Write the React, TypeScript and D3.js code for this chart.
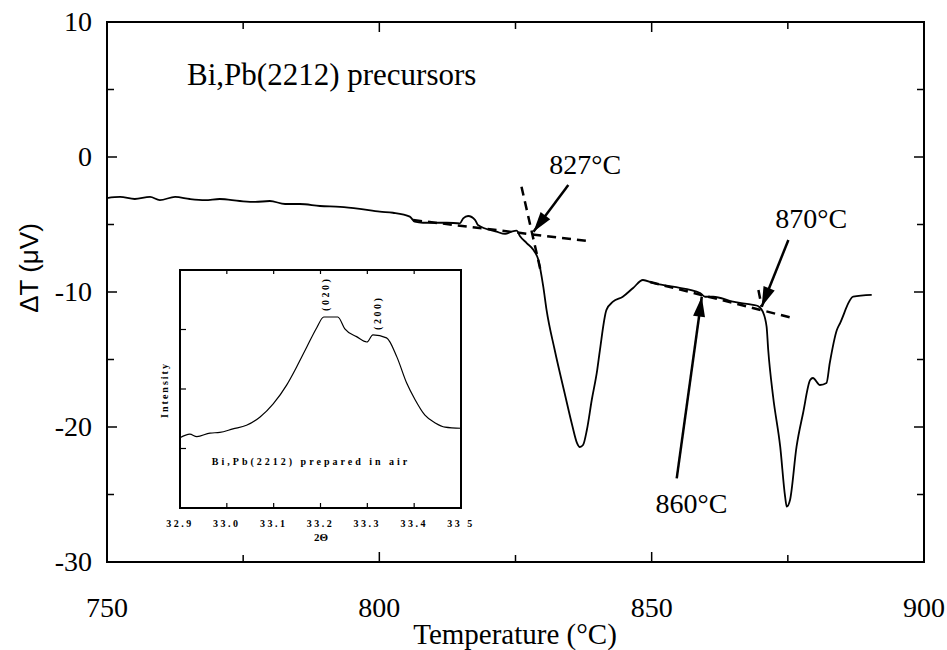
import * as d3 from 'd3';
import * as React from 'react';

const width = 947;
const height = 650;
const frame = { left: 107, right: 924, top: 22, bottom: 562 };

// main DTA trace, temperature (°C) and deltaT (µV)
const temps = [
  750, 752.4, 755.1, 757.9, 759.7, 762.5, 765.2, 768, 770.7, 774.4, 777.2, 779.9, 782.7, 785.4,
  789.1, 792.8, 796.4, 800.1, 802.5, 805.6, 806.5, 808, 812.4, 814.8, 815.4, 816.3, 817.6, 818.1,
  821.5, 823.1, 824.3, 825.2, 825.8, 827.1, 828.3, 829.2, 830.1, 830.7, 832.2, 834.1, 835.4, 836.3,
  836.8, 837.4, 838.1, 839, 840, 840.5, 841.7, 842.9, 844.7, 846.6, 848.4, 850.2, 853.9, 858.9,
  859.8, 861.3, 864.9, 868.6, 869.5, 870.4, 871.1, 871.4, 872.3, 873.6, 874.5, 874.8, 875.4, 876.6,
  877.8, 879.1, 879.6, 880.9, 882.1, 882.7, 884, 884.6, 887, 890.4,
];
const deltaT = [
  -3.04, -2.96, -3.11, -2.96, -3.19, -2.96, -3.11, -3.19, -3.11, -3.26, -3.33, -3.26, -3.48, -3.48,
  -3.63, -3.7, -3.85, -4.05, -4.13, -4.42, -4.79, -4.87, -4.87, -4.91, -4.54, -4.37, -4.67, -5.04,
  -5.53, -5.7, -5.53, -5.46, -5.85, -6.39, -6.89, -7.63, -9.61, -11.33, -14.3, -17.63, -19.85, -21.19,
  -21.48, -21.33, -20.22, -18.0, -15.78, -14.3, -11.33, -10.72, -10.35, -9.7, -9.11, -9.33, -9.61, -10.07,
  -10.35, -10.35, -10.72, -10.96, -11.04, -11.46, -12.57, -14.3, -17.76, -21.46, -25.16, -25.9, -25.41, -21.46,
  -18.96, -16.52, -16.37, -16.89, -16.74, -15.26, -12.81, -12.3, -10.35, -10.22,
];

const xTicks = [750, 800, 850, 900];
const xMinor = [775, 825, 875];
const yTicks = [10, 0, -10, -20, -30];
const yMinor = [5, -5, -15, -25];

// dashed construction lines [T1, V1, T2, V2]
const dashedLines = [
  [806.2, -4.67, 838.1, -6.22],
  [826.1, -2.2, 829.6, -8.4],
  [849.7, -9.26, 875.9, -11.93],
  [869.6, -9.85, 870.2, -11.09],
];

// arrows: from (T, V) to tip (T, V), label and label anchor
const arrowLabels = ['827°C', '870°C', '860°C'];
const arrowFrom = [[834.7, -2.07], [875.1, -6.15], [854.6, -23.8]];
const arrowTo = [[828.3, -5.53], [870.2, -11.09], [859.2, -10.35]];
const labelAt = [[837.8, -1.26], [879.3, -5.26], [857.3, -26.4]];

// inset XRD scan
const twoTheta = [
  32.9, 32.921, 32.936, 32.964, 32.985, 33.013, 33.042, 33.071, 33.099, 33.128, 33.149, 33.171, 33.192,
  33.207, 33.237, 33.252, 33.277, 33.299, 33.312, 33.341, 33.363, 33.384, 33.402, 33.423, 33.445, 33.466, 33.5,
];
const intensity = [
  1.18, 1.24, 1.2, 1.26, 1.27, 1.33, 1.39, 1.53, 1.75, 2.07, 2.37, 2.71, 3.03,
  3.21, 3.21, 3.01, 2.88, 2.79, 2.91, 2.86, 2.54, 2.1, 1.82, 1.56, 1.43, 1.36, 1.34,
];
const insetTicks = [32.9, 33.0, 33.1, 33.2, 33.3, 33.4, 33.5];
const insetTickLabels = ['32.9', '33.0', '33.1', '33.2', '33.3', '33.4', '33 5'];
const insetYTicks = [1, 2, 3];
const peakLabels = ['(020)', '(200)'];
const peakAt = [[33.21, 3.6], [33.32, 3.28]];

const serif = '"Liberation Serif", "Times New Roman", serif';
const sans = '"Liberation Sans", Arial, sans-serif';

export default function App() {
  const x = d3.scaleLinear().domain([750, 900]).range([frame.left, frame.right]);
  const y = d3.scaleLinear().domain([-30, 10]).range([frame.bottom, frame.top]);

  const ix = d3.scaleLinear().domain([32.9, 33.5]).range([180, 461]);
  const iy = d3.scaleLinear().domain([0, 4]).range([508, 270]);

  const line = d3
    .line<number>()
    .x((d, i) => x(temps[i]))
    .y(d => y(d))
    .curve(d3.curveMonotoneX);

  const insetLine = d3
    .line<number>()
    .x((d, i) => ix(twoTheta[i]))
    .y(d => iy(d))
    .curve(d3.curveMonotoneX);

  const arrowHead = (x1: number, y1: number, x2: number, y2: number) => {
    const a = Math.atan2(y2 - y1, x2 - x1);
    const len = 20;
    const w = 6;
    const bx = x2 - len * Math.cos(a);
    const by = y2 - len * Math.sin(a);
    const px = -Math.sin(a) * w;
    const py = Math.cos(a) * w;
    return `M${x2},${y2}L${bx + px},${by + py}L${bx - px},${by - py}Z`;
  };

  return (
    <svg
      width={width}
      height={height}
      style={{ position: 'absolute', left: 0, top: 0, background: '#fff' }}
    >
      <rect x={0} y={0} width={width} height={height} fill="#fff" />

      {/* frame */}
      <rect
        x={frame.left}
        y={frame.top}
        width={frame.right - frame.left}
        height={frame.bottom - frame.top}
        fill="none"
        stroke="#000"
        strokeWidth={2}
      />

      {/* ticks */}
      {xTicks.concat(xMinor).map(t => {
        const len = xTicks.includes(t) ? 10 : 7;
        return (
          <g key={'xt' + t} stroke="#000" strokeWidth={1.5}>
            <line x1={x(t)} x2={x(t)} y1={frame.bottom} y2={frame.bottom - len} />
            <line x1={x(t)} x2={x(t)} y1={frame.top} y2={frame.top + len} />
          </g>
        );
      })}
      {yTicks.concat(yMinor).map(t => {
        const len = yTicks.includes(t) ? 10 : 7;
        return (
          <g key={'yt' + t} stroke="#000" strokeWidth={1.5}>
            <line x1={frame.left} x2={frame.left + len} y1={y(t)} y2={y(t)} />
            <line x1={frame.right} x2={frame.right - len} y1={y(t)} y2={y(t)} />
          </g>
        );
      })}

      {/* tick labels */}
      {xTicks.map(t => (
        <text
          key={'xl' + t}
          x={x(t)}
          y={617}
          textAnchor="middle"
          fontFamily={serif}
          fontSize={28}
        >
          {t}
        </text>
      ))}
      {yTicks.map(t => (
        <text
          key={'yl' + t}
          x={92}
          y={y(t) + 9}
          textAnchor="end"
          fontFamily={serif}
          fontSize={28}
        >
          {t}
        </text>
      ))}

      <text x={515} y={644} textAnchor="middle" fontFamily={serif} fontSize={29}>
        Temperature (°C)
      </text>
      <text
        transform="translate(38,268) rotate(-90)"
        textAnchor="middle"
        fontFamily={sans}
        fontSize={26}
      >
        ΔT (μV)
      </text>

      <text x={x(764.7)} y={y(5.33)} fontFamily={serif} fontSize={31}>
        Bi,Pb(2212) precursors
      </text>

      {/* dashed construction lines */}
      {dashedLines.map((d, i) => (
        <line
          key={'dl' + i}
          x1={x(d[0])}
          y1={y(d[1])}
          x2={x(d[2])}
          y2={y(d[3])}
          stroke="#000"
          strokeWidth={2.5}
          strokeDasharray="9,6"
        />
      ))}

      {/* main trace */}
      <path d={line(deltaT) || ''} fill="none" stroke="#000" strokeWidth={1.8} strokeLinejoin="round" />

      {/* arrows */}
      {arrowLabels.map((lab, i) => {
        const x1 = x(arrowFrom[i][0]);
        const y1 = y(arrowFrom[i][1]);
        const x2 = x(arrowTo[i][0]);
        const y2 = y(arrowTo[i][1]);
        return (
          <g key={lab}>
            <line x1={x1} y1={y1} x2={x2} y2={y2} stroke="#000" strokeWidth={2.5} />
            <path d={arrowHead(x1, y1, x2, y2)} fill="#000" />
            <text
              x={x(labelAt[i][0])}
              y={y(labelAt[i][1])}
              textAnchor="middle"
              fontFamily={serif}
              fontSize={28}
            >
              {lab}
            </text>
          </g>
        );
      })}

      {/* inset */}
      <g>
        <rect x={180} y={270} width={281} height={238} fill="#fff" stroke="#000" strokeWidth={2} />
        {insetTicks.map(t => (
          <line key={'it' + t} x1={ix(t)} x2={ix(t)} y1={508} y2={503} stroke="#000" strokeWidth={1.2} />
        ))}
        {insetTicks.map(t => (
          <line key={'it2' + t} x1={ix(t)} x2={ix(t)} y1={270} y2={274} stroke="#000" strokeWidth={1.2} />
        ))}
        {insetYTicks.map(t => (
          <line key={'iy' + t} x1={180} x2={186} y1={iy(t)} y2={iy(t)} stroke="#000" strokeWidth={1.2} />
        ))}
        {insetTickLabels.map((lab, i) => (
          <text
            key={'itl' + lab}
            x={ix(insetTicks[i])}
            y={527}
            textAnchor="middle"
            fontFamily={serif}
            fontWeight="bold"
            fontSize={10}
            letterSpacing={2.5}
          >
            {lab}
          </text>
        ))}
        <text x={321} y={541} textAnchor="middle" fontFamily={serif} fontWeight="bold" fontSize={11}>
          2Θ
        </text>
        <text
          transform="translate(168,390) rotate(-90)"
          textAnchor="middle"
          fontFamily={serif}
          fontWeight="bold"
          fontSize={10}
          letterSpacing={2}
        >
          Intensity
        </text>
        <text
          x={ix(32.968)}
          y={iy(0.72)}
          fontFamily={serif}
          fontWeight="bold"
          fontSize={10}
          letterSpacing={3}
        >
          Bi,Pb(2212) prepared in air
        </text>
        {peakLabels.map((p, i) => (
          <text
            key={p}
            transform={`translate(${ix(peakAt[i][0])},${iy(peakAt[i][1])}) rotate(-90)`}
            textAnchor="middle"
            dy={4}
            fontFamily={serif}
            fontWeight="bold"
            fontSize={10}
            letterSpacing={2.5}
          >
            {p}
          </text>
        ))}
        <path d={insetLine(intensity) || ''} fill="none" stroke="#000" strokeWidth={1.2} />
      </g>
    </svg>
  );
}
